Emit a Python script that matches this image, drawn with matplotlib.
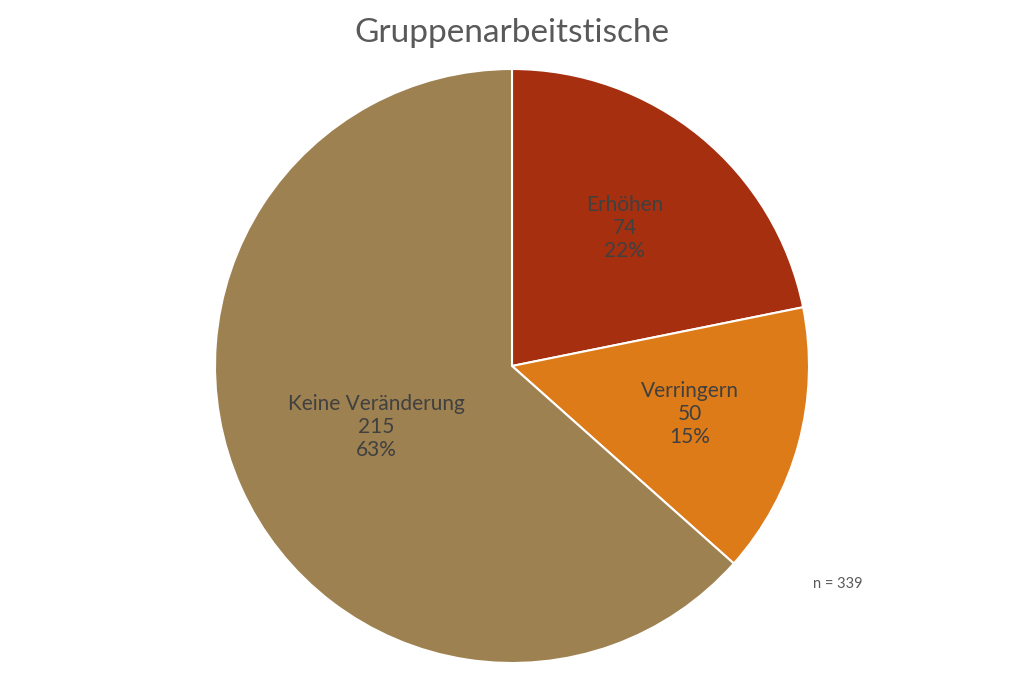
import numpy as np
import matplotlib
matplotlib.use("Agg")
import matplotlib.pyplot as plt

categories = ["Erhöhen", "Verringern", "Keine Veränderung"]
values = [74, 50, 215]
colors = ["#A52F0F", "#DD7B18", "#9E8151"]
label_radius = [0.60, 0.62, 0.50]
title = "Gruppenarbeitstische"
n_text = "n = 339"

plt.rcParams['font.family'] = ['Lato', 'DejaVu Sans']

fig = plt.figure(figsize=(10.24, 6.82), dpi=100)
ax = fig.add_axes([(512 - 297) / 1024, (682 - 663) / 682, 594 / 1024, 594 / 682])
wedges, _ = ax.pie(values, colors=colors, startangle=90, counterclock=False,
                   wedgeprops=dict(edgecolor="white", linewidth=1.5))
ax.set_xlim(-1, 1)
ax.set_ylim(-1, 1)
ax.set_aspect("equal")
ax.axis("off")

total = sum(values)
for w, cat, v, r in zip(wedges, categories, values, label_radius):
    ang = np.deg2rad((w.theta1 + w.theta2) / 2)
    pct = round(v / total * 100)
    ax.text(r * np.cos(ang), r * np.sin(ang), f"{cat}\n{v}\n{pct}%",
            ha="center", va="center", fontsize=15, color="#404040", linespacing=1.2)

fig.text(0.5, 1 - 33 / 682, title, ha="center", va="center", fontsize=24, color="#595959")
fig.text(838 / 1024, 1 - 584 / 682, n_text, ha="center", va="center", fontsize=10.5, color="#595959")

fig.savefig("out.png", dpi=100)
